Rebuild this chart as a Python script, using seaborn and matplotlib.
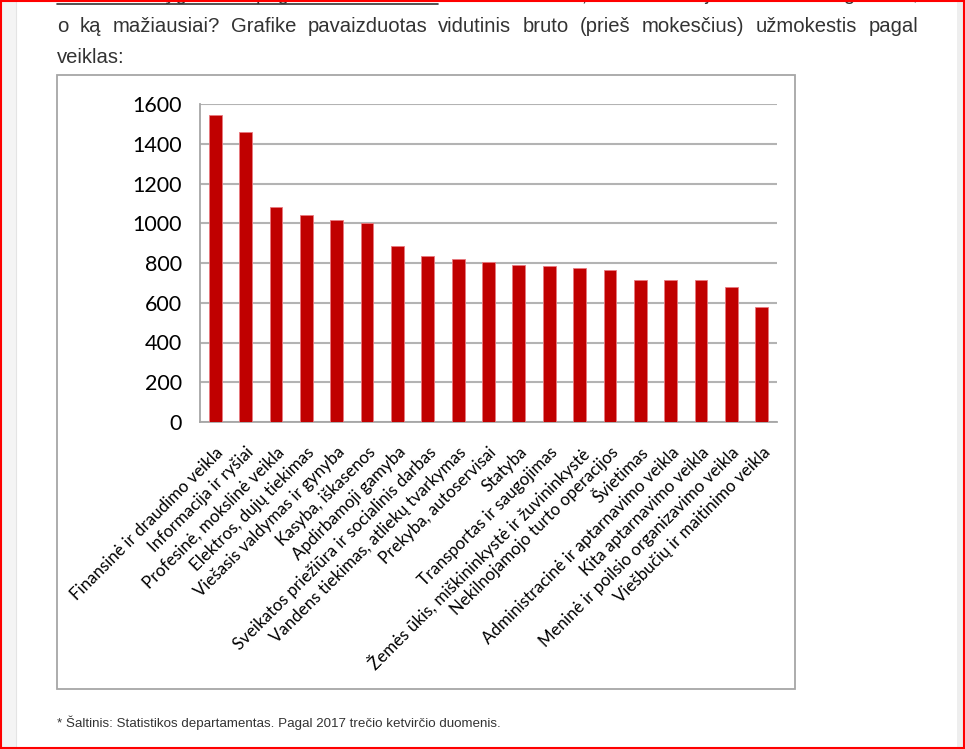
import numpy as np
import pandas as pd
import matplotlib
matplotlib.use('Agg')
import matplotlib.pyplot as plt
import seaborn as sns
from matplotlib.patches import Rectangle
from matplotlib.lines import Line2D

# vidutinis bruto užmokestis pagal veiklas (2017 III ketv.)
veiklos = [
    'Finansinė ir draudimo veikla',
    'Informacija ir ryšiai',
    'Profesinė, mokslinė veikla',
    'Elektros, dujų tiekimas',
    'Viešasis valdymas ir gynyba',
    'Kasyba, iškasenos',
    'Apdirbamoji gamyba',
    'Sveikatos priežiūra ir socialinis darbas',
    'Vandens tiekimas, atliekų tvarkymas',
    'Prekyba, autoservisai',
    'Statyba',
    'Transportas ir saugojimas',
    'Žemės ūkis, miškininkystė ir žuvininkystė',
    'Nekilnojamojo turto operacijos',
    'Švietimas',
    'Administracinė ir aptarnavimo veikla',
    'Kita aptarnavimo veikla',
    'Meninė ir poilsio organizavimo veikla',
    'Viešbučių ir maitinimo veikla',
]
atlyginimas = [1545, 1458, 1080, 1041, 1018, 1000, 885, 835, 822, 803,
               791, 785, 773, 766, 716, 716, 716, 678, 577]
y_ticks = [0, 200, 400, 600, 800, 1000, 1200, 1400, 1600]

eilute1_nuoroda = 'Vidutinis atlyginimas pagal veiklos rūšis.'
eilute1_kita = 'Norite sužinoti, kas Lietuvoje uždirba daugiausiai,'
eilute2 = 'o ką mažiausiai? Grafike pavaizduotas vidutinis bruto (prieš mokesčius) užmokestis pagal'
eilute3 = 'veiklas:'
saltinis = '* Šaltinis: Statistikos departamentas. Pagal 2017 trečio ketvirčio duomenis.'

W, H = 965, 749
sns.set_style('white')
plt.rcParams['font.family'] = ['Lato', 'DejaVu Sans']

fig = plt.figure(figsize=(W / 100, H / 100), dpi=100)
renderer = fig.canvas.get_renderer()


def fx(x):
    return x / W


def fy(y):
    return 1 - y / H


# page background pieces
fig.patches.append(Rectangle((fx(1), 0), fx(16) - fx(1), 1, transform=fig.transFigure,
                             facecolor='#f4f4f4', edgecolor='none', zorder=0))
fig.patches.append(Rectangle((fx(957), 0), fx(963) - fx(957), 1, transform=fig.transFigure,
                             facecolor='#eeeeee', edgecolor='none', zorder=0))
fig.add_artist(Line2D([fx(16), fx(16)], [0, 1], color='#e4e4e4', lw=0.8))
fig.patches.append(Rectangle((fx(0.7), fy(747.5)), fx(963.5) - fx(0.7), fy(1) - fy(747.5),
                             transform=fig.transFigure, facecolor='none',
                             edgecolor='#ff0000', lw=1.5, zorder=5))

PAR = 14.6


def justify(words, x0, x1, ybase, size, color='#333333'):
    txts = [fig.text(0, fy(ybase), w, fontsize=size, family='Liberation Sans',
                     color=color, va='baseline') for w in words]
    widths = [t.get_window_extent(renderer).width for t in txts]
    gap = (x1 - x0 - sum(widths)) / (len(words) - 1)
    x = x0
    ends = []
    for t, w in zip(txts, widths):
        t.set_x(fx(x))
        x += w
        ends.append(x)
        x += gap
    return ends


n_link = len(eilute1_nuoroda.split())
ends = justify(eilute1_nuoroda.split() + eilute1_kita.split(), 57, 918, 0.5, PAR)
fig.add_artist(Line2D([fx(57), fx(ends[n_link - 1])], [fy(4), fy(4)], color='#333333', lw=1.2))
justify(eilute2.split(), 57, 918, 32, PAR)
fig.text(fx(57), fy(63), eilute3, fontsize=PAR, family='Liberation Sans',
         color='#333333', va='baseline')

fig.text(fx(57), fy(727), saltinis, fontsize=9.6, family='Liberation Sans',
         color='#333333', va='baseline')

# chart frame
fig.patches.append(Rectangle((fx(57), fy(689)), fx(795) - fx(57), fy(75) - fy(689),
                             transform=fig.transFigure, facecolor='white',
                             edgecolor='#a6a6a6', lw=1.3, zorder=1))

ax = fig.add_axes([fx(200), fy(422), fx(777) - fx(200), fy(104) - fy(422)])
ax.set_zorder(3)
df = pd.DataFrame({'veikla': veiklos, 'eur': atlyginimas})
sns.barplot(data=df, x='veikla', y='eur', color='#C00000', saturation=1, width=0.42,
            edgecolor='#e87a80', linewidth=0.6, ax=ax, zorder=3)

ax.set_xlim(-0.5, len(veiklos) - 0.5)
ax.set_ylim(0, 1600)
ax.set_yticks(y_ticks)
ax.set_yticklabels([str(v) for v in y_ticks], fontsize=15.5, color='black')
ax.set_xticks(range(len(veiklos)))
ax.set_xticklabels(veiklos, rotation=45, ha='right', rotation_mode='anchor',
                   fontsize=12.2, color='black')
ax.set_xticks(np.arange(-0.5, len(veiklos)), minor=True)
ax.tick_params(axis='x', which='major', length=0, pad=16)
ax.tick_params(axis='x', which='minor', length=4, width=1, color='#a6a6a6', direction='out')
ax.tick_params(axis='y', length=4, width=1, color='#a6a6a6', direction='out', pad=9)
ax.yaxis.grid(True, color='#b3b3b3', lw=1.5)
ax.set_axisbelow(True)
ax.set_xlabel('')
ax.set_ylabel('')
for s in ['top', 'right']:
    ax.spines[s].set_visible(False)
for s in ['left', 'bottom']:
    ax.spines[s].set_color('#a6a6a6')
    ax.spines[s].set_linewidth(1.3)

fig.savefig('out.png', dpi=100)
